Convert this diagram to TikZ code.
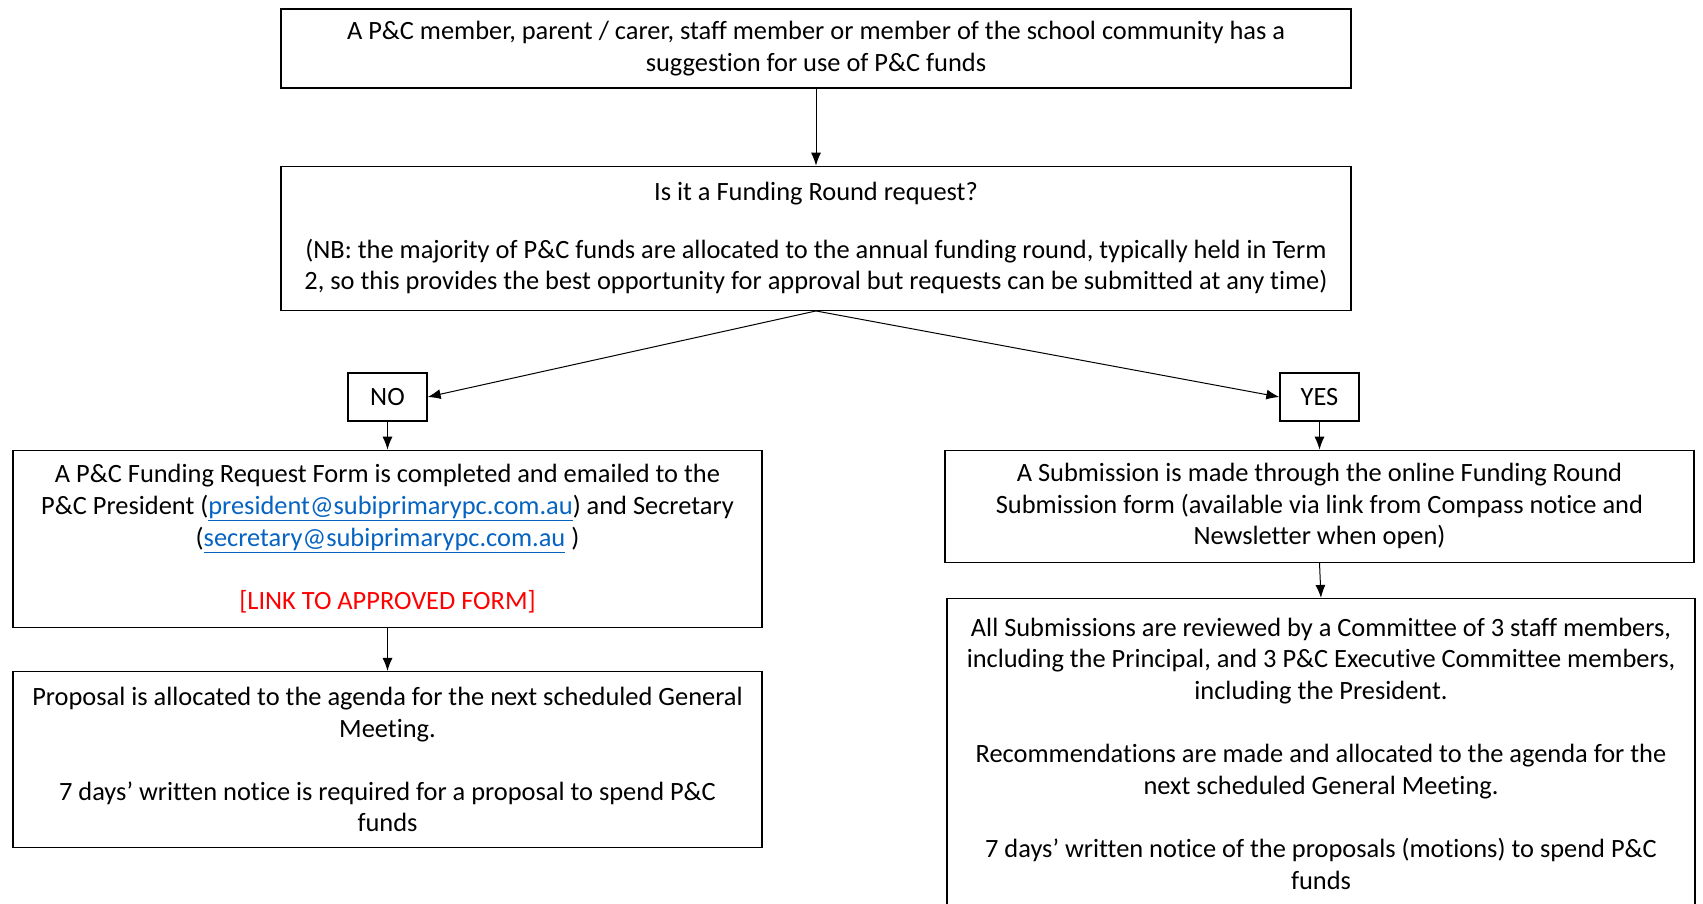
\documentclass[tikz,border=0pt]{standalone}
\usepackage{fontspec}
\setmainfont[Ligatures=NoCommon]{Carlito}
\usepackage{xcolor}
\usepackage{tikz}
\usetikzlibrary{
  positioning,
  arrows.meta
}
\definecolor{linkblue}{HTML}{0563C1}
\tikzset{>={Latex[length=13pt,width=10pt]}}
\newcommand{\pandc}{P\&C}
\newcommand{\maillink}[1]{\textcolor{linkblue}{\underline{#1}}}
\newcommand{\blankline}{\\[31.6pt]}

\begin{document}
\begin{tikzpicture}[x=1pt, y=-1pt,
    stepbox/.style = {rectangle, draw, line width=1.3pt, align=center, inner sep=0pt,
      font=\fontsize{26.4}{31.6}\selectfont},
    answer/.style = {stepbox, minimum width=79pt, minimum height=48pt},
    ->, line width=1pt]
        \clip (0,0) rectangle (1703,903);
        % nodes
        \node[stepbox, minimum width=1070pt, minimum height=79pt] (suggestion) at (816,48.5)
          {A \pandc{} member, parent / carer, staff member or member of the school community has a\\
           suggestion for use of \pandc{} funds};
        \node[stepbox, minimum width=1070pt, minimum height=144pt, below=77pt of suggestion] (question)
          {Is it a Funding Round request?\\[26pt]
           (NB: the majority of \pandc{} funds are allocated to the annual funding round, typically held in Term\\
           2, so this provides the best opportunity for approval but requests can be submitted at any time)};

        \node[answer] (no) at (387.5,397) {NO};
        \node[answer] (yes) at (1319.5,397) {YES};

        \node[stepbox, minimum width=749pt, minimum height=177pt, below=28pt of no] (request_form)
          {A \pandc{} Funding Request Form is completed and emailed to the\\
           \pandc{} President (\maillink{president@subiprimarypc.com.au}) and Secretary\\
           (\maillink{secretary@subiprimarypc.com.au} )\blankline
           \textcolor{red}{[LINK TO APPROVED FORM]}};
        \node[stepbox, minimum width=749pt, minimum height=176pt, below=43pt of request_form] (agenda)
          {Proposal is allocated to the agenda for the next scheduled General\\
           Meeting.\blankline
           7 days’ written notice is required for a proposal to spend \pandc\\
           funds};

        \node[stepbox, minimum width=749pt, minimum height=112pt, below=28pt of yes] (submission)
          {A Submission is made through the online Funding Round\\
           Submission form (available via link from Compass notice and\\
           Newsletter when open)};
        \node[stepbox, minimum width=748pt, minimum height=310pt, below=35pt of submission, xshift=1.5pt] (review)
          {All Submissions are reviewed by a Committee of 3 staff members,\\
           including the Principal, and 3 \pandc{} Executive Committee members,\\
           including the President.\blankline
           Recommendations are made and allocated to the agenda for the\\
           next scheduled General Meeting.\blankline
           7 days’ written notice of the proposals (motions) to spend \pandc\\
           funds};

        % connections
        \draw (suggestion.south) to (question.north);
        \draw (question.south) to (no.east);
        \draw (question.south) to (yes.west);
        \draw (no.south) to (request_form.north);
        \draw (request_form.south) to (agenda.north);
        \draw (yes.south) to (submission.north);
        \draw (submission.south) to (review.north);
\end{tikzpicture}
\end{document}
